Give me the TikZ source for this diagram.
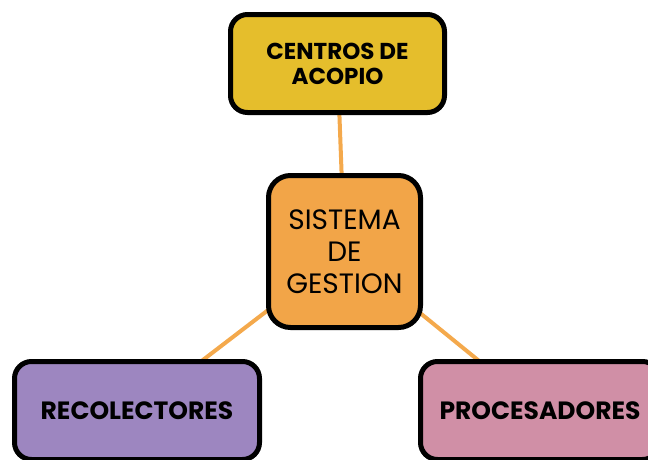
\documentclass[tikz,border=0pt]{standalone}
\usepackage{fontspec}
\setmainfont{Poppins}
\usetikzlibrary{backgrounds}
\definecolor{cyellow}{HTML}{E5BE2C}
\definecolor{corange}{HTML}{F2A548}
\definecolor{cpurple}{HTML}{9D86C0}
\definecolor{cpink}{HTML}{D08FA6}
\definecolor{cline}{HTML}{F4A94C}
\tikzset{
  box/.style={draw=black, line width=5pt, rounded corners=17pt, inner sep=0pt, align=center, text=black},
  conn/.style={draw=cline, line width=4pt},
}
\begin{document}
\begin{tikzpicture}[x=1pt,y=-1pt]
\useasboundingbox (0,0) rectangle (648,459);
\clip (0,0) rectangle (648,459);
\node[box, fill=cyellow, minimum width=214pt, minimum height=98pt, font=\fontsize{23}{25}\selectfont\bfseries] (top) at (337.5,63.5) {CENTROS DE\\ACOPIO};
\node[box, fill=corange, rounded corners=22pt, minimum width=152pt, minimum height=152pt, font=\fontsize{28}{32}\selectfont] (mid) at (344.5,251.5) {SISTEMA\\DE\\GESTION};
\node[box, fill=cpurple, minimum width=245pt, minimum height=98pt, font=\fontsize{25}{25}\selectfont\bfseries] (rec) at (137,410.5) {RECOLECTORES};
\node[box, fill=cpink, minimum width=239pt, minimum height=98pt, font=\fontsize{25}{25}\selectfont\bfseries] (pro) at (540,410.5) {PROCESADORES};
\begin{scope}[on background layer]
\draw[conn] (top.center) -- (mid.center);
\draw[conn] (mid.center) -- (rec.center);
\draw[conn] (mid.center) -- (pro.center);
\end{scope}
\end{tikzpicture}
\end{document}
